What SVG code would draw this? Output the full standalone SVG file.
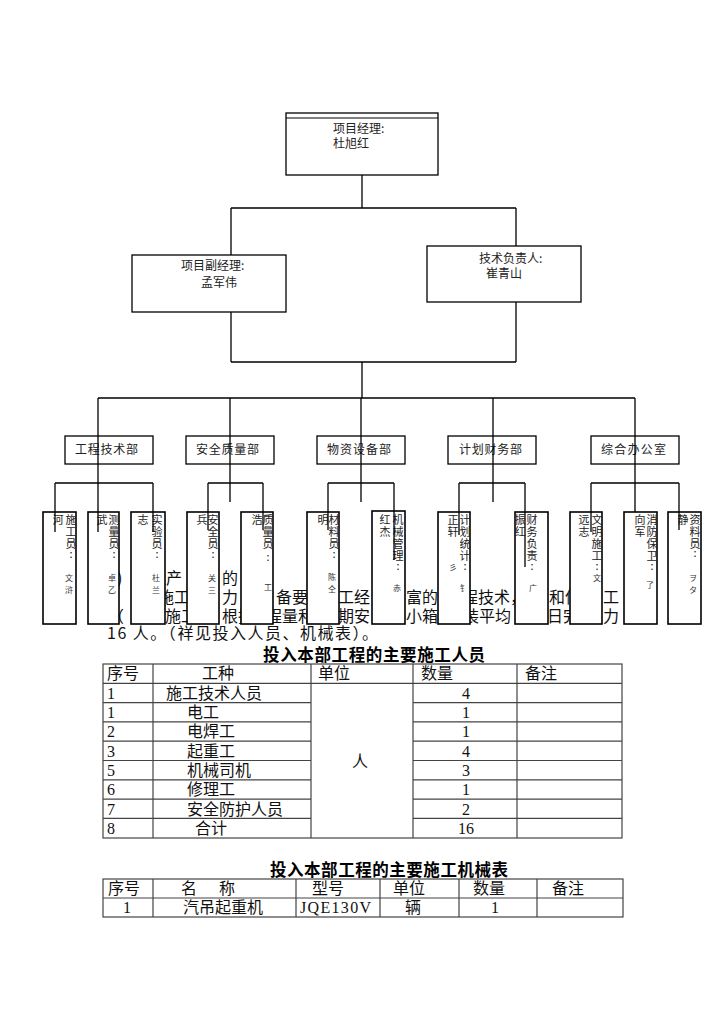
<svg xmlns="http://www.w3.org/2000/svg" width="724" height="1024" viewBox="0 0 724 1024">
<style>
.bx{fill:#fff;stroke:#000;stroke-width:1.3}
.sb{fill:#fff;stroke:#000;stroke-width:1.6}
.ln{fill:none;stroke:#000;stroke-width:1.3}
.tl{fill:none;stroke:#444;stroke-width:1.2}
.t12{font-family:"Noto Sans CJK SC","Liberation Sans",sans-serif;font-size:12px;fill:#222}
.vt{font-family:"Noto Sans CJK SC","Liberation Sans",sans-serif;font-size:11px;fill:#222;text-anchor:middle}
.vs{font-family:"Noto Sans CJK SC","Liberation Sans",sans-serif;font-size:8px;fill:#333;text-anchor:middle}
.body{font-family:"Noto Sans CJK SC","Liberation Serif",serif;font-size:16px;fill:#111}
.ttl{font-family:"Noto Sans CJK SC","Liberation Sans",sans-serif;font-size:16.5px;font-weight:bold;fill:#000}
.tb{font-family:"Liberation Serif","Noto Sans CJK SC",serif;font-size:16px;fill:#111}
.tc{text-anchor:middle}
</style>

<g id="body-text">
<text class="body" x="117" y="584">)</text>
<text class="body" x="150" y="584">生产</text>
<text class="body" x="222" y="584">的（</text>
<text class="body" x="158" y="603">施工</text>
<text class="body" x="222" y="603">力</text>
<text class="body" x="276" y="603">备要</text>
<text class="body" x="338" y="603">工经</text>
<text class="body" x="406" y="603">富的</text>
<text class="body" x="462" y="603">程技术，</text>
<text class="body" x="549" y="603">和信</text>
<text class="body" x="603" y="603">工</text>
<text class="body" x="108" y="622">（</text>
<text class="body" x="165" y="622">施工</text>
<text class="body" x="222" y="622">根据</text>
<text class="body" x="266" y="622">程量和</text>
<text class="body" x="338" y="622">期安</text>
<text class="body" x="406" y="622">小箱</text>
<text class="body" x="463" y="622">装平均</text>
<text class="body" x="547" y="622">日完</text>
<text class="body" x="603" y="622">力</text>
<text class="body" x="107" y="639" textLength="271" lengthAdjust="spacing">16 人。（祥见投入人员、机械表）。</text>
</g>

<g id="n-pm">
<rect class="bx" x="286" y="113" width="152" height="62"/>
<line x1="286" y1="118" x2="438" y2="118" stroke="#000" stroke-width="1"/>
<text class="t12" x="333" y="133">项目经理:</text>
<text class="t12" x="333" y="148">杜旭红</text>
</g>
<g id="n-dpm">
<rect class="bx" x="132" y="255" width="154" height="57"/>
<text class="t12" x="181" y="270">项目副经理:</text>
<text class="t12" x="201" y="287">孟军伟</text>
</g>
<g id="n-tech">
<rect class="bx" x="427" y="246" width="154" height="56"/>
<text class="t12" x="479" y="263">技术负责人:</text>
<text class="t12" x="486" y="278">崔青山</text>
</g>

<g id="n-d1"><rect class="bx" x="65" y="436" width="88" height="28"/><text class="t12" x="75" y="454" textLength="63">工程技术部</text></g>
<g id="n-d2"><rect class="bx" x="186" y="436" width="88" height="28"/><text class="t12" x="196" y="454" textLength="63">安全质量部</text></g>
<g id="n-d3"><rect class="bx" x="317" y="436" width="88" height="28"/><text class="t12" x="327" y="454" textLength="64">物资设备部</text></g>
<g id="n-d4"><rect class="bx" x="448" y="436" width="88" height="28"/><text class="t12" x="459" y="454" textLength="63">计划财务部</text></g>
<g id="n-d5"><rect class="bx" x="591" y="436" width="88" height="28"/><text class="t12" x="601" y="454" textLength="65">综合办公室</text></g>

<g id="s1"><rect class="sb" x="43" y="512" width="33" height="112"/>
<text class="vt" x="58" y="524">河</text>
<text class="vt" x="71 71 71 71" y="524 536 548 558">施工员:</text>
<text class="vs" x="69 69" y="581 593">文浒</text></g>
<g id="s2"><rect class="sb" x="88" y="512" width="31" height="112"/>
<text class="vt" x="102" y="524">武</text>
<text class="vt" x="114 114 114 114" y="524 536 548 558">测量员:</text>
<text class="vs" x="112 112" y="581 593">卓乙</text></g>
<g id="s3"><rect class="sb" x="131" y="512" width="34" height="112"/>
<text class="vt" x="143" y="524">志</text>
<text class="vt" x="157 157 157 157" y="524 536 548 558">实验员:</text>
<text class="vs" x="156 156" y="581 593">杜兰</text></g>

<g id="s4"><rect class="sb" x="187" y="512" width="32" height="112"/>
<text class="vt" x="202" y="524">兵</text>
<text class="vt" x="213 213 213 213" y="524 536 548 558">安全员:</text>
<text class="vs" x="212 212" y="581 593">关三</text></g>
<g id="s5"><rect class="sb" x="241" y="512" width="32" height="112"/>
<text class="vt" x="257" y="524">浩</text>
<text class="vt" x="268 268 268 268" y="524 536 548 561">质量员:</text>
<text class="vs" x="268" y="590">工</text></g>

<g id="s6"><rect class="sb" x="307" y="512" width="32" height="112"/>
<text class="vt" x="323" y="524">明</text>
<text class="vt" x="334 334 334 334" y="524 536 548 558">材料员:</text>
<text class="vs" x="332 332" y="580 592">陈仝</text></g>
<g id="s7"><rect class="sb" x="372" y="511" width="33" height="113"/>
<text class="vt" x="385 385" y="524 536">红杰</text>
<text class="vt" x="398 398 398 398 398" y="524 536 548 560 570">机械管理:</text>
<text class="vs" x="397" y="591">赤</text></g>

<g id="s8"><rect class="sb" x="438" y="512" width="32" height="112"/>
<text class="vt" x="453 453" y="524 536">正轩</text>
<text class="vt" x="465 465 465 465 465" y="524 536 548 560 570">计划统计:</text>
<text class="vs" x="453" y="570">彡</text>
<text class="vs" x="464" y="591">钅</text></g>
<g id="s9"><rect class="sb" x="515" y="512" width="33" height="112"/>
<text class="vt" x="520 520" y="524 536">振红</text>
<text class="vt" x="532 532 532 532 532" y="524 536 548 560 570">财务负责:</text>
<text class="vs" x="533" y="591">广</text></g>

<g id="s10"><rect class="sb" x="570" y="512" width="32" height="112"/>
<text class="vt" x="584 584" y="524 536">远志</text>
<text class="vt" x="597 597 597 597 597" y="524 536 548 560 570">文明施工:</text>
<text class="vs" x="597" y="581">文</text></g>
<g id="s11"><rect class="sb" x="624" y="512" width="33" height="112"/>
<text class="vt" x="640 640" y="524 536">向军</text>
<text class="vt" x="652 652 652 652 652" y="524 536 548 560 570">消防保卫:</text>
<text class="vs" x="650" y="588">了</text></g>
<g id="s12"><rect class="sb" x="668" y="512" width="33" height="112"/>
<text class="vt" x="683" y="524">静</text>
<text class="vt" x="695 695 695 695" y="524 536 548 557">资料员:</text>
<text class="vs" x="693 693" y="581 593">ヲタ</text></g>

<g id="connectors" class="ln">
<path d="M362,175V208M231,208H516M231,208V255M516,208V246M231,312V362M516,302V362M231,362H516M362,362V398"/>
<path d="M98,398H635M98,398V532M230,398V502M361,398V502M493,398V502M635,398V512"/>
<path d="M55,483H153M55,483V532M153,483V532"/>
<path d="M208,483H263M208,483V530M263,483V530"/>
<path d="M328,483H394M328,483V530M394,483V560"/>
<path d="M459,483H525M459,483V535M525,483V567"/>
<path d="M591,483H679M591,483V532M679,483V530"/>
</g>

<g id="table1">
<text class="ttl" x="263" y="661" textLength="222">投入本部工程的主要施工人员</text>
<rect class="tl" x="103" y="664" width="519" height="174"/>
<path class="tl" d="M103,683.3H622M103,702.6H311M413,702.6H622M103,721.9H311M413,721.9H622M103,741.2H311M413,741.2H622M103,760.5H311M413,760.5H622M103,779.8H311M413,779.8H622M103,799.1H311M413,799.1H622M103,818.4H311M413,818.4H622M153,664V838M311,664V838M413,664V838M517,664V838"/>
<text class="tb" x="107" y="679">序号</text>
<text class="tb" x="202" y="679">工种</text>
<text class="tb" x="318" y="679">单位</text>
<text class="tb" x="421" y="679">数量</text>
<text class="tb" x="525" y="679">备注</text>
<g class="tb">
<text x="107" y="699">1</text><text x="166" y="699">施工技术人员</text>
<text x="107" y="718">1</text><text x="187" y="718">电工</text>
<text x="107" y="737">2</text><text x="187" y="737">电焊工</text>
<text x="107" y="757">3</text><text x="187" y="757">起重工</text>
<text x="107" y="776">5</text><text x="187" y="776">机械司机</text>
<text x="107" y="795">6</text><text x="187" y="795">修理工</text>
<text x="107" y="815">7</text><text x="187" y="815">安全防护人员</text>
<text x="107" y="834">8</text><text x="195" y="834">合计</text>
</g>
<g class="tb tc">
<text x="466" y="699">4</text>
<text x="466" y="718">1</text>
<text x="466" y="737">1</text>
<text x="466" y="757">4</text>
<text x="466" y="776">3</text>
<text x="466" y="795">1</text>
<text x="466" y="815">2</text>
<text x="466" y="834">16</text>
<text x="360" y="767">人</text>
</g>
</g>

<g id="table2">
<text class="ttl" x="270" y="876" textLength="238">投入本部工程的主要施工机械表</text>
<rect class="tl" x="103" y="879" width="520" height="38"/>
<path class="tl" d="M103,898H623M153,879V917M296,879V917M380,879V917M459,879V917M537,879V917"/>
<text class="tb" x="108" y="894">序号</text>
<text class="tb" x="181" y="894">名</text>
<text class="tb" x="219" y="894">称</text>
<text class="tb" x="312" y="894">型号</text>
<text class="tb" x="393" y="894">单位</text>
<text class="tb" x="473" y="894">数量</text>
<text class="tb" x="552" y="894">备注</text>
<text class="tb tc" x="127" y="913">1</text>
<text class="tb" x="183" y="913">汽吊起重机</text>
<text class="tb" x="300" y="913" textLength="71">JQE130V</text>
<text class="tb" x="405" y="913">辆</text>
<text class="tb tc" x="495" y="913">1</text>
</g>
</svg>
